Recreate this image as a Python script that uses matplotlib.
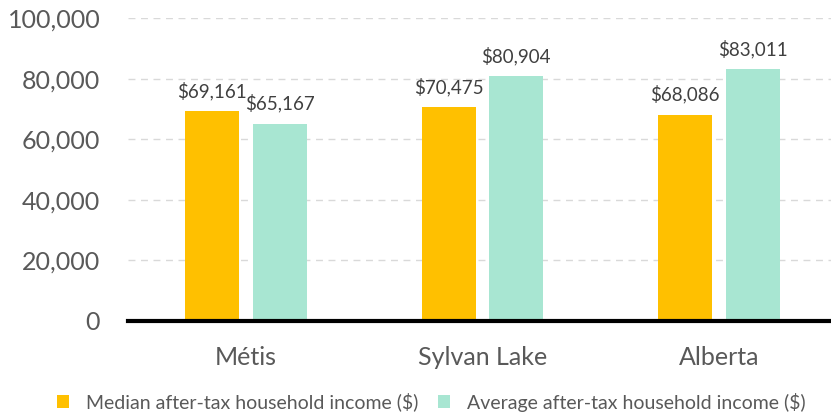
import numpy as np
import matplotlib.pyplot as plt
from matplotlib.ticker import FuncFormatter

categories = ["Métis", "Sylvan Lake", "Alberta"]
median_income = [69161, 70475, 68086]
average_income = [65167, 80904, 83011]
series_names = ["Median after-tax household income ($)",
                "Average after-tax household income ($)"]

plt.rcParams['font.family'] = ['Lato', 'DejaVu Sans']
gray = '#595959'

fig = plt.figure(figsize=(8.31, 4.17), dpi=100)
ax = fig.add_axes([128 / 831, 1 - 321 / 417, 709 / 831, 303 / 417])

x = np.arange(len(categories))
off = 0.143
w = 0.228
b1 = ax.bar(x - off, median_income, w, color='#FFC000', label=series_names[0], zorder=3)
b2 = ax.bar(x + off, average_income, w, color='#A8E6D2', label=series_names[1], zorder=3)

# labels: baseline ~14px above the bar top
for bars in (b1, b2):
    for r in bars:
        ax.annotate(f"${r.get_height():,.0f}", (r.get_x() + r.get_width() / 2, r.get_height()),
                    xytext=(0, 10), textcoords='offset points', ha='center', va='baseline',
                    fontsize=13.5, color='#404040')

ax.set_xlim(-0.5, 2.5)
ax.set_ylim(0, 100000)
ax.set_yticks(range(0, 100001, 20000))
ax.yaxis.set_major_formatter(FuncFormatter(lambda v, p: f"{v:,.0f}"))
ax.set_xticks(x)
ax.set_xticklabels(categories)
ax.tick_params(axis='y', length=0, pad=20, labelsize=18, labelcolor=gray)
ax.tick_params(axis='x', length=0, pad=18, labelsize=18, labelcolor=gray)
ax.grid(axis='y', linestyle=(0, (5, 4)), color='#D9D9D9', linewidth=1, zorder=0)
for s in ['top', 'right', 'left']:
    ax.spines[s].set_visible(False)
ax.spines['bottom'].set_linewidth(3)
ax.spines['bottom'].set_color('black')
ax.spines['bottom'].set_zorder(4)

leg = fig.legend(handles=[b1, b2], loc='center', bbox_to_anchor=(0.5 + 16 / 831, 1 - 402 / 417), ncol=2,
                 frameon=False, fontsize=14, handlelength=0.6, handleheight=0.6,
                 handletextpad=0.9, columnspacing=1.0)
for t in leg.get_texts():
    t.set_color(gray)

fig.savefig("out.png", dpi=100)
